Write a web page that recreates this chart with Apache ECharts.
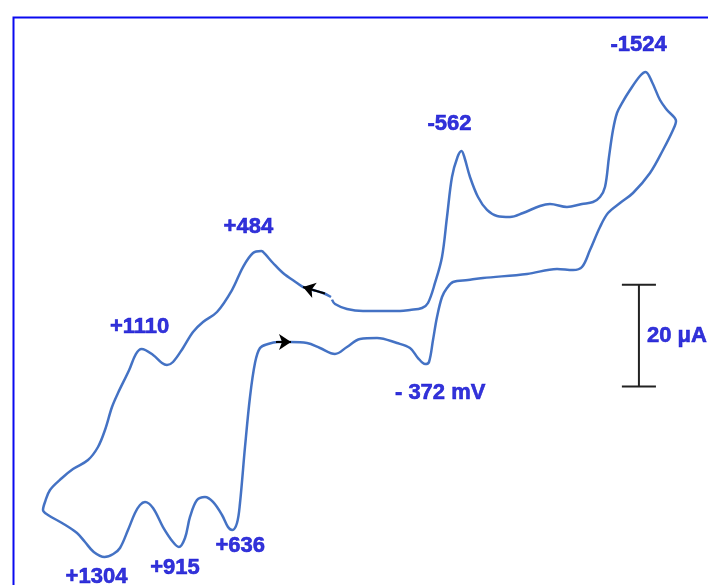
<!DOCTYPE html>
<html>
<head>
<meta charset="utf-8">
<script src="https://cdn.jsdelivr.net/npm/echarts@6/dist/echarts.min.js"></script>
<style>
  html, body { margin: 0; padding: 0; background: #fff; }
  #chart { width: 708px; height: 585px; }
</style>
</head>
<body>
<div id="chart"></div>
<script>
// Cyclic voltammogram: potential (mV, positive to the left) vs current (µA)
const potential = [
  120.2, 162, 214.3, 266.5, 297.9, 371, 423.3, 465.1, 484, 527.8,
  580.1, 637.6, 716, 789.1, 841.4, 893.6, 945.9, 977.3, 1003.4, 1050,
  1110, 1140, 1175, 1233.3, 1264.7, 1301.3, 1337.9, 1390.1, 1468.5, 1526,
  1588.7, 1614.8, 1625.3, 1599.2, 1526, 1447.6, 1405.8, 1360, 1304, 1258,
  1222.9, 1181.1, 1144.5, 1118.4, 1092.2, 1050.4, 998.2, 945.9, 915, 883.2,
  857.1, 820.5, 778.7, 736.9, 689.8, 658.5, 636, 611.4, 595.8, 569.6,
  543.5, 517.4, 491.2, 449.4, 397.2, 334.5, 245.6, 177.7, 99.3, 36.6,
  -31.4, -120.2, -224.7, -292.7, -334.5, -372, -392, -412.9, -433.8, -459.9,
  -486, -517.4, -595.8, -674.2, -904.1, -1060.9, -1144.5, -1191.5, -1233.3, -1285.6,
  -1327.4, -1390.1, -1458.1, -1546.9, -1614.8, -1667.1, -1682.8, -1635.7, -1599.2, -1557.3,
  -1524, -1494.6, -1442.4, -1400.6, -1374.4, -1353.5, -1332.6, -1311.7, -1285.6, -1249,
  -1191.5, -1113.1, -1024.3, -972, -883.2, -815.3, -747.3, -695.1, -648, -606.2,
  -578, -562, -541, -512.1, -486, -459.9, -423.3, -386.7, -355.4, -292.7,
  -240.4, -172.5, -47, 36.6, 99.3, 115
];
const current = [
  -2.38, -1.6, -1.0, -0.42, 0.37, 2.33, 4.30, 6.07, 6.66, 6.26,
  3.51, -1.01, -5.33, -7.30, -9.26, -12.41, -15.16, -15.75, -15.36, -13.79,
  -12.61, -13.6, -16.73, -21.26, -24.01, -28.53, -31.87, -34.43, -36.20, -37.97,
  -40.32, -42.68, -44.26, -45.24, -46.81, -48.78, -50.55, -52.51, -53.50, -52.91,
  -51.73, -48.19, -44.85, -43.27, -42.68, -43.86, -47.60, -50.55, -51.53, -49.76,
  -45.63, -42.29, -41.70, -42.68, -45.24, -47.60, -48.19, -46.81, -42.88, -31.87,
  -22.04, -15.36, -12.41, -11.62, -11.23, -11.23, -11.43, -12.41, -13.59, -12.21,
  -10.64, -10.44, -11.43, -12.41, -14.38, -15.56, -15.16, -10.84, -6.32, -2.38,
  -0.62, 0.56, 0.96, 1.35, 2.14, 3.12, 2.92, 3.51, 6.85, 11.38,
  14.13, 16.09, 18.06, 21.99, 26.51, 30.44, 32.21, 34.38, 36.34, 39.88,
  41.85, 41.06, 38.31, 35.75, 33.79, 30.44, 25.14, 19.24, 17.27, 16.29,
  15.90, 15.31, 15.90, 15.51, 14.13, 13.34, 13.54, 14.72, 17.27, 21.21,
  24.94, 26.32, 25.14, 21.21, 13.34, 5.48, 0.37, -3.56, -4.55, -4.94,
  -5.14, -5.14, -5.14, -4.74, -3.76, -2.9
];

// Peak annotations: text, potential, label height (µA), horizontal offset (px)
const peakText = ['-1524', '-562', '+484', '+1110', '+1304', '+915', '+636', '- 372 mV'];
const peakPotential = [-1524, -562, 484, 1110, 1304, 915, 636, -372];
const peakLabelY = [47.2, 31.6, 11.4, -8.3, -57.4, -55.7, -51.3, -21.3];
const peakLabelDx = [-7, -12, -13, -2, -8, -4, 8, 15];

// Scan-direction arrows (start and end points)
const arrowStart = [[151.6, -1.7], [407.6, -11.23]];
const arrowEnd = [[266.5, -0.42], [329.2, -11.23]];

// Current scale bar
const scaleBarPotential = -1489;
const scaleBarSpan = [0, -20];
const scaleBarCap = 89;
const scaleBarText = '20 μA';

const trace = potential.map((p, k) => [p, current[k]]);
const labelBlue = '#0000d0';
const labelFont = {
  fontFamily: 'Liberation Sans, Arial, sans-serif', fontWeight: 'bold', fontSize: 22,
  textBorderColor: labelBlue, textBorderWidth: 0.6
};

const labelData = peakText.map((t, k) => ({
  value: [peakPotential[k], peakLabelY[k]],
  label: { formatter: t, offset: [peakLabelDx[k], 0] }
}));

const bar = [
  [scaleBarPotential + scaleBarCap, scaleBarSpan[0]],
  [scaleBarPotential - scaleBarCap, scaleBarSpan[0]],
  [scaleBarPotential, scaleBarSpan[0]],
  [scaleBarPotential, scaleBarSpan[1]],
  [scaleBarPotential + scaleBarCap, scaleBarSpan[1]],
  [scaleBarPotential - scaleBarCap, scaleBarSpan[1]]
];

const chart = echarts.init(document.getElementById('chart'), null, { renderer: 'canvas' });
chart.setOption({
  animation: false,
  backgroundColor: '#ffffff',
  grid: { left: 0, right: 0, top: 0, bottom: 0 },
  xAxis: { type: 'value', inverse: true, min: -1850, max: 1850, show: false },
  yAxis: { type: 'value', min: -59, max: 56, show: false },
  graphic: [{
    type: 'rect', left: 11, top: 15, silent: true, z: 100,
    shape: { width: 760, height: 640 },
    style: { fill: 'none', stroke: '#0a0af0', lineWidth: 2 }
  }],
  series: [
    {
      type: 'line', data: trace, smooth: 0.35, symbol: 'none',
      lineStyle: { color: '#4472c4', width: 2.5 }
    },
    {
      type: 'lines', coordinateSystem: 'cartesian2d', z: 5,
      symbol: ['none', 'arrow'], symbolSize: 12,
      lineStyle: { color: '#000000', width: 2, opacity: 1 },
      data: arrowStart.map((s, k) => ({ coords: [s, arrowEnd[k]] }))
    },
    {
      type: 'line', data: bar, symbol: 'none',
      lineStyle: { color: '#222222', width: 2 }
    },
    {
      type: 'scatter', symbolSize: 0, data: labelData,
      label: Object.assign({ show: true, position: 'inside', color: labelBlue }, labelFont)
    },
    {
      type: 'scatter', symbolSize: 0,
      data: [[scaleBarPotential, (scaleBarSpan[0] + scaleBarSpan[1]) / 2]],
      label: Object.assign({
        show: true, position: 'right', distance: 8, formatter: scaleBarText, color: labelBlue
      }, labelFont)
    }
  ]
});
</script>
</body>
</html>
